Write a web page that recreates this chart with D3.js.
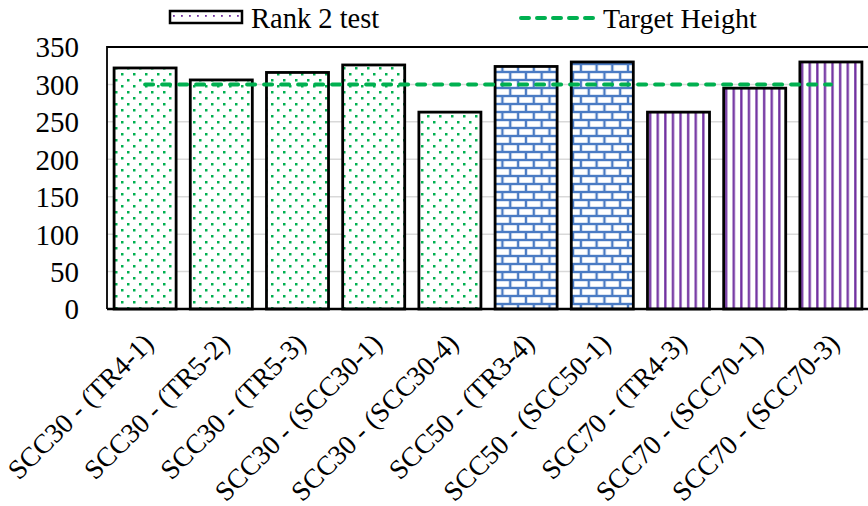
<!DOCTYPE html>
<html>
<head>
<meta charset="utf-8">
<script src="https://cdn.jsdelivr.net/npm/d3@7/dist/d3.min.js"></script>
<style>
html,body{margin:0;padding:0;background:#fff;overflow:hidden;}
svg{display:block;font-family:"Liberation Serif","Times New Roman",serif;}
</style>
</head>
<body>
<svg id="chart" width="868" height="506"></svg>
<script>
const categories = ["SCC30 - (TR4-1)","SCC30 - (TR5-2)","SCC30 - (TR5-3)","SCC30 - (SCC30-1)","SCC30 - (SCC30-4)","SCC50 - (TR3-4)","SCC50 - (SCC50-1)","SCC70 - (TR4-3)","SCC70 - (SCC70-1)","SCC70 - (SCC70-3)"];
const heights = [322, 306, 316, 326, 263, 324, 330, 263, 295, 330];
const fills = ["dots","dots","dots","dots","dots","brick","brick","stripes","stripes","stripes"];
const targetHeight = [300, 300, 300, 300, 300, 300, 300, 300, 300, 300];
const yTicks = [0, 50, 100, 150, 200, 250, 300, 350];
const legendLabels = ["Rank 2 test", "Target Height"];

const svg = d3.select("#chart");
const margin = {left:107, top:47, right:-1, bottom:197};
const W = 868, H = 506;
const x = d3.scaleBand().domain(categories).range([margin.left, W - margin.right]).paddingInner(0.186).paddingOuter(0.093);
const y = d3.scaleLinear().domain([0, 350]).range([H - margin.bottom, margin.top]);

const defs = svg.append("defs");
// dotted green
const pd = defs.append("pattern").attr("id","dots").attr("patternUnits","userSpaceOnUse").attr("width",12).attr("height",12);
pd.append("rect").attr("width",12).attr("height",12).attr("fill","#fff");
pd.append("rect").attr("x",1).attr("y",1).attr("width",2.5).attr("height",2.5).attr("fill","#00b050");
pd.append("rect").attr("x",7).attr("y",7).attr("width",2.5).attr("height",2.5).attr("fill","#00b050");
// brick blue
const pb = defs.append("pattern").attr("id","brick").attr("patternUnits","userSpaceOnUse").attr("width",15.7).attr("height",16);
pb.append("rect").attr("width",15.7).attr("height",16).attr("fill","#4a7bc4");
pb.append("rect").attr("x",1.2).attr("y",1.2).attr("width",13.3).attr("height",5.6).attr("fill","#fff");
pb.append("rect").attr("x",-6.65).attr("y",9.2).attr("width",13.3).attr("height",5.6).attr("fill","#fff");
pb.append("rect").attr("x",9.05).attr("y",9.2).attr("width",13.3).attr("height",5.6).attr("fill","#fff");
// vertical stripes purple
const ps = defs.append("pattern").attr("id","stripes").attr("patternUnits","userSpaceOnUse").attr("width",7.6).attr("height",10);
ps.append("rect").attr("width",7.6).attr("height",10).attr("fill","#fff");
ps.append("rect").attr("x",3).attr("y",0).attr("width",2.3).attr("height",10).attr("fill","#7030a0");
// legend dots
const pl = defs.append("pattern").attr("id","legdots").attr("patternUnits","userSpaceOnUse").attr("width",8).attr("height",13).attr("x",2).attr("y",10);
pl.append("rect").attr("width",8).attr("height",13).attr("fill","#fff");
pl.append("rect").attr("x",3).attr("y",5).attr("width",1.8).attr("height",1.8).attr("fill","#7030a0");

// gridlines
svg.append("g").selectAll("line").data(yTicks.filter(d => d > 0)).join("line")
  .attr("x1", margin.left).attr("x2", W).attr("y1", d => y(d)).attr("y2", d => y(d))
  .attr("stroke","#d9d9d9").attr("stroke-width",1.5);

// plot frame
svg.append("path").attr("d", `M${W+2},${margin.top}H${margin.left}V${y(0)}`)
  .attr("fill","none").attr("stroke","#000").attr("stroke-width",1.8);

// y axis labels
const yAxis = d3.axisLeft(y).tickValues(yTicks).tickSize(0).tickPadding(28);
const gy = svg.append("g").attr("transform", `translate(${margin.left},0)`).call(yAxis);
gy.select(".domain").remove();
gy.selectAll("text").attr("font-size", 29).attr("font-family","Liberation Serif").attr("fill","#000").attr("dy","0.34em");

// bars
svg.append("g").selectAll("rect").data(categories).join("rect")
  .attr("x", d => x(d)).attr("width", x.bandwidth())
  .attr("y", (d,i) => y(heights[i])).attr("height", (d,i) => y(0) - y(heights[i]))
  .attr("fill", (d,i) => `url(#${fills[i]})`)
  .attr("stroke","#000").attr("stroke-width",2.8);

// bottom axis line
svg.append("line").attr("x1", margin.left).attr("x2", W).attr("y1", y(0)).attr("y2", y(0))
  .attr("stroke","#000").attr("stroke-width",2.5);

// target line
const line = d3.line().x(d => x(d) + x.bandwidth()/2).y((d,i) => y(targetHeight[i]));
svg.append("path").datum(categories).attr("d", line)
  .attr("fill","none").attr("stroke","#00b050").attr("stroke-width",4)
  .attr("stroke-dasharray","8,9").attr("stroke-linecap","round");

// x labels
const xAxis = d3.axisBottom(x).tickSize(0).tickPadding(0);
const gx = svg.append("g").attr("transform", `translate(0,${y(0)})`).call(xAxis);
gx.select(".domain").remove();
gx.selectAll("text")
  .attr("font-size", 27.5).attr("font-family","Liberation Serif").attr("fill","#000")
  .attr("text-anchor","end").attr("dy", null).attr("y", null)
  .attr("transform", "translate(10,36) rotate(-45)");

// legend
const lg = svg.append("g");
lg.append("rect").attr("x",170).attr("y",11).attr("width",72).attr("height",12)
  .attr("fill","url(#legdots)").attr("stroke","#000").attr("stroke-width",2.5);
lg.append("text").attr("x",251).attr("y",28).attr("font-size",28.5).text(legendLabels[0]);
lg.append("line").attr("x1",521).attr("x2",594).attr("y1",18).attr("y2",18)
  .attr("stroke","#00b050").attr("stroke-width",4).attr("stroke-dasharray","8,8").attr("stroke-linecap","round");
lg.append("text").attr("x",603).attr("y",28).attr("font-size",28).text(legendLabels[1]);
</script>
</body>
</html>
